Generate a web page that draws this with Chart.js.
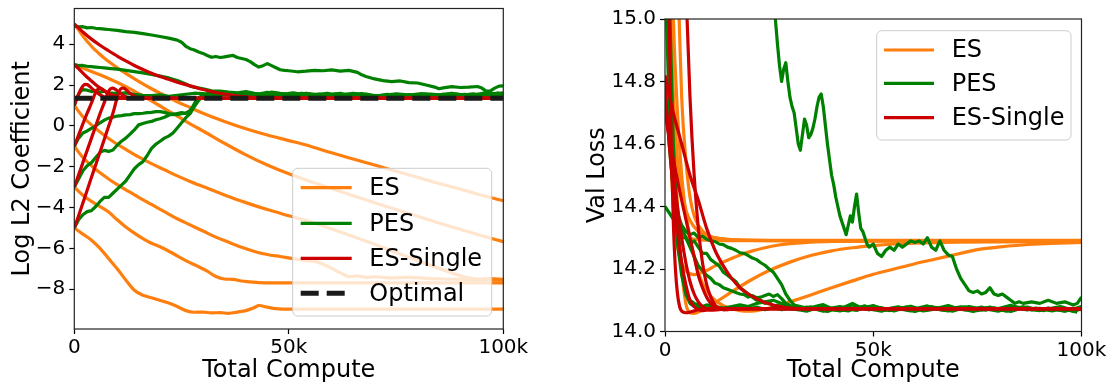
<!DOCTYPE html>
<html>
<head>
<meta charset="utf-8">
<script src="https://cdn.jsdelivr.net/npm/chart.js@4.4.0/dist/chart.umd.min.js"></script>
<style>
  html, body { margin: 0; padding: 0; background: #fff; }
  #wrap { position: relative; width: 1110px; height: 384px; }
  canvas { position: absolute; top: 0; }
  #left { left: 0; }
  #right { left: 560px; }
</style>
</head>
<body>
<div id="wrap">
  <canvas id="left" width="560" height="384"></canvas>
  <canvas id="right" width="550" height="384"></canvas>
</div>
<script>
// x values are total compute in thousands
const xTicks = [0, 50, 100];
const xTickLabels = ['0', '50k', '100k'];
const l2Ticks = [-8, -6, -4, -2, 0, 2, 4];
const lossTicks = [14.0, 14.2, 14.4, 14.6, 14.8, 15.0];
const methods = ['ES', 'PES', 'ES-Single', 'Optimal'];
const optimalL2 = [[0, 1.35], [100, 1.35]];

// x positions of the noisy tails
const evenX = [32,34,36,38,40,42,44,46,48,50,52,54,56,58,60,62,64,66,68,70,72,74,76,78,80,82,84,86,88,90,92,94,96,98,100];
const oddX = [33,35,37,39,41,43,45,47,49,51,53,55,57,59,61,63,65,67,69,71,73,75,77,79,81,83,85,87,89,91,93,95,97,99];

// ---- left: Log L2 coefficient, ES runs (start 5, 3, 1, -1, -3, -5)
const l2Es5 = [[0,5],[2,4.4],[4,3.9],[6,3.5],[8,3.15],[10,2.85],[12,2.57],[15,2.18],[18,1.82],[21,1.5],[24,1.18],[27,0.9],[30,0.62],[35,0.22],[40,-0.14],[45,-0.45],[50,-0.72],[55,-1.0],[60,-1.32],[65,-1.62],[70,-1.92],[75,-2.22],[80,-2.52],[85,-2.82],[90,-3.1],[95,-3.4],[100,-3.67]];
const l2Es3 = [[0,3],[3,2.75],[6,2.5],[9,2.22],[12,1.92],[15,1.58],[18,1.22],[21,0.85],[24,0.48],[27,0.1],[30,-0.25],[35,-0.85],[40,-1.42],[45,-1.92],[50,-2.35],[55,-2.72],[60,-3.07],[65,-3.42],[70,-3.77],[75,-4.1],[80,-4.43],[85,-4.76],[90,-5.07],[95,-5.38],[100,-5.67]];
const l2Es1 = [[0,1],[2,0.45],[4,0.05],[6,-0.3],[8,-0.62],[10,-0.9],[12,-1.15],[15,-1.52],[18,-1.85],[21,-2.15],[24,-2.45],[27,-2.72],[30,-2.97],[35,-3.38],[40,-3.76],[45,-4.1],[50,-4.4],[55,-4.7],[60,-5.05],[65,-5.42],[70,-5.8],[75,-6.2],[80,-6.6],[85,-6.98],[88,-7.2],[91,-7.4],[94,-7.5],[97,-7.48],[100,-7.52]];
const l2EsM1 = [[0,-1],[2,-1.55],[4,-1.95],[6,-2.3],[8,-2.6],[10,-2.88],[12,-3.13],[15,-3.5],[18,-3.85],[21,-4.2],[24,-4.55],[27,-4.85],[30,-5.15],[33,-5.45],[36,-5.7],[39,-5.95],[42,-6.15],[45,-6.3],[48,-6.4],[51,-6.5],[54,-6.6],[56,-6.64],[58,-6.78],[60,-6.98],[62,-7.2],[64,-7.38],[66,-7.35],[68,-7.42],[70,-7.39],[74,-7.45],[78,-7.42],[82,-7.47],[86,-7.5],[90,-7.52],[94,-7.54],[100,-7.55]];
const l2EsM3 = [[0,-3],[2,-3.4],[4,-3.7],[6,-3.95],[8,-4.22],[10,-4.6],[12,-4.95],[14,-5.25],[16,-5.52],[18,-5.75],[20,-5.92],[23,-6.25],[26,-6.6],[29,-6.9],[31,-7.12],[33,-7.38],[35,-7.5],[37,-7.52],[39,-7.6],[41,-7.64],[43,-7.68],[46,-7.69],[60,-7.69],[80,-7.69],[100,-7.69]];
const l2EsM5 = [[0,-5],[2,-5.3],[4,-5.6],[6,-6.0],[8,-6.5],[10,-7.0],[12,-7.55],[14,-8.05],[16,-8.3],[18,-8.42],[20,-8.55],[22,-8.68],[24,-8.85],[26,-9.05],[28,-9.13],[30,-9.12],[32,-9.16],[34,-9.15],[36,-9.18],[38,-9.12],[40,-9.05],[42,-8.9],[43,-8.8],[45,-8.88],[47,-8.95],[50,-8.98],[100,-8.98]];

// ---- left: PES runs
const l2Pes5 = [[0,4.88],[1,4.85],[2,4.86],[3,4.8],[4,4.82],[5,4.78],[6,4.76],[7,4.74],[8,4.72],[10,4.68],[12,4.62],[14,4.58],[16,4.52],[18,4.45],[20,4.38],[22,4.3],[24,4.2],[25,4.1],[26,3.9],[27,3.78],[28,3.72],[29,3.62],[30,3.55],[31,3.45],[32,3.36],[33,3.4],[34,3.35],[35,3.38],[36,3.42],[37,3.45],[38,3.35],[39,3.3],[40,3.25],[41,3.15],[42,3.0],[43,2.88],[44,2.95],[45,3.05],[46,2.95],[47,2.85],[48,2.75],[49,2.72],[50,2.7],[52,2.65],[54,2.68],[56,2.72],[58,2.7],[60,2.74],[62,2.68],[64,2.72],[66,2.62],[67,2.5],[68,2.42],[70,2.3],[72,2.22],[74,2.17],[76,2.2],[78,2.12],[80,2.1],[82,2.0],[84,1.9],[85,1.82],[86,1.86],[88,1.92],[90,1.88],[92,1.9],[94,1.93],[95,1.85],[96,1.7],[97,1.72],[98,1.85],[99,1.95],[100,1.96]];
const l2Pes3 = [[0,3.0],[1,2.95],[2,2.96],[3,2.92],[4,2.9],[5,2.88],[6,2.86],[7,2.84],[8,2.82],[10,2.78],[12,2.72],[14,2.66],[16,2.6],[18,2.52],[20,2.44],[22,2.35],[24,2.22],[26,2.05],[27,1.95],[28,1.9],[30,1.82],[32,1.72],[34,1.7],[36,1.65],[38,1.62],[40,1.68],[42,1.6],[44,1.55],[46,1.66],[48,1.6],[50,1.55],[52,1.5],[54,1.6],[56,1.55],[58,1.48],[60,1.53],[62,1.6],[64,1.5],[66,1.55],[68,1.47],[70,1.43],[72,1.5],[74,1.55],[76,1.49],[78,1.45],[80,1.51],[82,1.57],[84,1.5],[86,1.55],[88,1.6],[90,1.53],[92,1.5],[94,1.55],[96,1.63],[98,1.57],[100,1.62]];
const l2Pes1 = [[0,1.0],[0.5,1.3],[1,1.55],[1.5,1.7],[2,1.78],[3,1.75],[4,1.68],[5,1.72],[6,1.65],[7,1.7],[8,1.62],[10,1.58],[12,1.62],[14,1.55],[16,1.5],[18,1.48],[20,1.52],[22,1.45],[24,1.5],[26,1.55],[28,1.6],[30,1.58],[32,1.52],[34,1.6],[36,1.5],[38,1.55],[40,1.52],[42,1.47],[44,1.55],[46,1.5],[48,1.46],[50,1.53],[52,1.48],[54,1.56],[56,1.5],[58,1.45],[60,1.52],[62,1.48],[64,1.43],[66,1.5],[68,1.56],[70,1.48],[72,1.45],[74,1.5],[76,1.46],[78,1.53],[80,1.48],[82,1.43],[84,1.47],[86,1.54],[88,1.48],[90,1.45],[92,1.5],[94,1.55],[96,1.48],[98,1.46],[100,1.52]];
const l2PesM1Head = [[0,-1.0],[1,-0.6],[2,-0.35],[3,-0.25],[4,-0.12],[5,0.0],[6,0.15],[7,0.28],[8,0.38],[9,0.42],[10,0.48],[11,0.5],[12,0.54],[13,0.55],[14,0.6],[15,0.6],[16,0.62],[17,0.65],[18,0.66],[19,0.7],[20,0.7],[21,0.66],[22,0.6],[23,0.55],[24,0.6],[25,0.65],[26,0.62],[27,0.7],[27.5,0.9],[28,1.1],[28.5,1.25],[29,1.38],[30,1.5],[31,1.56]];
const l2PesM1Tail = [1.58,1.5,1.62,1.55,1.48,1.56,1.65,1.55,1.48,1.52,1.6,1.54,1.46,1.5,1.57,1.52,1.45,1.5,1.42,1.48,1.55,1.5,1.46,1.53,1.58,1.5,1.46,1.52,1.56,1.5,1.47,1.54,1.6,1.55];
const l2PesM3Head = [[0,-3],[1,-2.6],[2,-2.2],[3,-1.95],[4,-1.8],[5,-1.55],[6,-1.3],[7,-1.2],[8,-1.25],[9,-1.18],[10,-0.95],[11,-0.75],[12,-0.6],[13,-0.4],[14,-0.2],[15,0.05],[16,0.12],[17,0.18],[18,0.22],[19,0.3],[20,0.35],[21,0.42],[22,0.52],[23,0.58],[24,0.55],[25,0.6],[26,0.62],[27,0.75],[28,1.0],[29,1.3],[30,1.48],[31,1.55]];
const l2PesM3Tail = [1.48,1.55,1.5,1.58,1.52,1.46,1.52,1.6,1.54,1.48,1.45,1.52,1.56,1.5,1.45,1.55,1.6,1.54,1.48,1.43,1.48,1.54,1.5,1.45,1.5,1.56,1.52,1.46,1.5,1.55,1.5,1.46,1.52,1.5];
const l2PesM5Head = [[0,-5],[1,-4.6],[2,-4.35],[3,-4.2],[4,-4.15],[5,-3.95],[6,-3.7],[7,-3.5],[8,-3.5],[9,-3.3],[10,-3.1],[11,-2.9],[12,-2.7],[13,-2.4],[14,-2.1],[15,-1.9],[16,-1.75],[17,-1.45],[18,-1.1],[19,-0.9],[20,-0.75],[21,-0.6],[22,-0.5],[23,-0.35],[24,-0.1],[25,0.15],[26,0.4],[27,0.6],[28,0.95],[29,1.25],[30,1.48],[31,1.58]];
const l2PesM5Tail = [1.6,1.55,1.48,1.52,1.58,1.5,1.45,1.5,1.56,1.62,1.55,1.5,1.54,1.6,1.52,1.47,1.52,1.58,1.5,1.45,1.5,1.57,1.53,1.48,1.52,1.46,1.5,1.55,1.48,1.52,1.57,1.5,1.55,1.62];

// ---- left: ES-Single runs
const l2Single5 = [[0,5],[2,4.6],[4,4.25],[6,3.95],[8,3.68],[10,3.42],[12,3.18],[14,2.96],[16,2.76],[18,2.58],[20,2.42],[22,2.28],[24,2.14],[26,2.02],[28,1.9],[30,1.78],[32,1.68],[34,1.6],[36,1.53],[38,1.47],[40,1.42],[43,1.38],[46,1.36],[50,1.35],[100,1.35]];
const l2Single3 = [[0,3],[1,2.8],[2,2.58],[3,2.38],[4,2.2],[5,2.02],[6,1.86],[7,1.72],[8,1.6],[9,1.5],[10,1.43],[11,1.39],[12,1.36],[14,1.35],[100,1.35]];
const l2Single1 = [[0,1],[0.5,1.3],[1,1.55],[1.5,1.78],[2,1.95],[2.5,2.03],[3,2.02],[3.5,1.95],[4,1.85],[5,1.68],[6,1.52],[7,1.42],[8,1.37],[9,1.35],[100,1.35]];
const l2SingleM1 = [[0,-1],[1,-0.45],[2,0.1],[3,0.62],[4,1.12],[4.5,1.4],[5,1.65],[5.5,1.8],[6,1.83],[6.5,1.8],[7,1.72],[8,1.55],[9,1.43],[10,1.38],[11,1.36],[12,1.35],[100,1.35]];
const l2SingleM3 = [[0,-3],[1,-2.4],[2,-1.8],[3,-1.2],[4,-0.6],[5,0.0],[6,0.6],[7,1.15],[7.5,1.45],[8,1.7],[8.5,1.83],[9,1.85],[9.5,1.8],[10,1.72],[11,1.55],[12,1.43],[13,1.38],[14,1.36],[15,1.35],[100,1.35]];
const l2SingleM5 = [[0,-5],[1,-4.4],[2,-3.78],[3,-3.15],[4,-2.52],[5,-1.9],[6,-1.28],[7,-0.65],[8,-0.02],[9,0.62],[9.5,1.0],[10,1.4],[10.5,1.7],[11,1.84],[11.5,1.85],[12,1.78],[13,1.6],[14,1.46],[15,1.39],[16,1.36],[17,1.35],[100,1.35]];

// ---- right: validation loss, ES runs
const lossEs1 = [[0,16.5],[0.5,15.5],[1,14.9],[1.5,14.6],[2,14.45],[3,14.35],[4,14.32],[5,14.305],[7,14.295],[10,14.292],[15,14.291],[100,14.291]];
const lossEs2 = [[0,17],[1,16.2],[2,15.6],[3,15.15],[3.4,15.0],[4,14.75],[5,14.55],[6,14.43],[7,14.37],[8,14.34],[10,14.31],[13,14.298],[17,14.293],[25,14.292],[100,14.292]];
const lossEs3 = [[0,16.5],[0.5,15.4],[1,14.85],[1.5,14.55],[2,14.4],[3,14.27],[4,14.22],[5,14.195],[6,14.185],[7,14.182],[8,14.185],[10,14.195],[12,14.21],[15,14.228],[18,14.245],[21,14.258],[24,14.268],[27,14.276],[30,14.281],[35,14.286],[40,14.288],[50,14.289],[100,14.289]];
const lossEs4 = [[0,16.5],[1,15.3],[2,14.7],[3,14.4],[4,14.2],[5,14.09],[6,14.06],[7,14.058],[8,14.062],[10,14.075],[12,14.092],[15,14.118],[20,14.16],[25,14.195],[30,14.222],[35,14.243],[40,14.258],[45,14.268],[50,14.275],[55,14.28],[60,14.283],[70,14.286],[80,14.287],[100,14.288]];
const lossEs5 = [[0,16.5],[1,15.6],[2,15.0],[3,14.7],[4,14.5],[5,14.38],[6,14.3],[7,14.24],[8,14.19],[9,14.155],[10,14.13],[12,14.1],[14,14.083],[16,14.073],[18,14.067],[20,14.065],[22,14.067],[25,14.075],[30,14.095],[35,14.117],[40,14.14],[45,14.162],[50,14.183],[55,14.2],[60,14.217],[65,14.232],[70,14.247],[75,14.262],[80,14.27],[85,14.276],[90,14.28],[100,14.285]];
const lossEs6 = [[0,16],[1,15.2],[2,14.75],[3,14.55],[4,14.45],[5,14.39],[6,14.355],[8,14.32],[10,14.305],[13,14.297],[17,14.293],[25,14.291],[100,14.291]];

// ---- right: PES runs
const lossPes1 = [[0,17],[10,16.2],[20,15.5],[25,15.15],[26.5,15.0],[27,14.92],[27.5,14.85],[28,14.8],[28.5,14.84],[29,14.86],[29.5,14.8],[30,14.75],[30.5,14.72],[31,14.7],[31.5,14.65],[32,14.6],[32.5,14.58],[33,14.63],[33.5,14.68],[34,14.66],[34.5,14.62],[35,14.63],[35.5,14.65],[36,14.68],[36.5,14.72],[37,14.75],[37.5,14.76],[38,14.72],[38.5,14.66],[39,14.6],[39.5,14.55],[40,14.5],[40.5,14.47],[41,14.43],[41.5,14.4],[42,14.37],[42.5,14.35],[43,14.33],[43.5,14.31],[44,14.34],[44.5,14.37],[45,14.35],[45.5,14.4],[46,14.44],[46.5,14.38],[47,14.33],[47.5,14.32],[48,14.3],[48.5,14.28],[49,14.27],[50,14.28],[51,14.25],[52,14.24],[53,14.26],[54,14.27],[55,14.26],[56,14.28],[57,14.27],[58,14.28],[59,14.29],[60,14.285],[61,14.29],[62,14.28],[63,14.3],[64,14.27],[65,14.26],[66,14.29],[67,14.26],[68,14.245],[69,14.24],[70,14.2],[71,14.17],[72,14.15],[73,14.13],[74,14.125],[75,14.13],[76,14.12],[77,14.125],[78,14.14],[79,14.12],[80,14.115],[81,14.12],[82,14.11],[83,14.1],[84,14.09],[85,14.095],[86,14.09],[88,14.095],[90,14.09],[92,14.1],[94,14.09],[96,14.095],[98,14.085],[99,14.09],[100,14.11]];
const lossPes2Head = [[0,14.4],[1,14.38],[2,14.36],[3,14.33],[4,14.3],[5,14.3],[6,14.28],[7,14.29],[8,14.27],[9,14.25],[10,14.25],[11,14.23],[12,14.22],[13,14.21],[14,14.19],[15,14.18],[16,14.17],[17,14.16],[18,14.14],[19,14.13],[20,14.12],[21,14.11],[22,14.1],[23,14.1],[24,14.09],[25,14.095],[26,14.08],[27,14.085],[28,14.08],[30,14.072]];
const lossPes2Tail = [14.07,14.078,14.072,14.065,14.075,14.08,14.072,14.068,14.076,14.07,14.065,14.074,14.079,14.071,14.067,14.074,14.08,14.073,14.068,14.075,14.07,14.064,14.072,14.078,14.07,14.066,14.073,14.079,14.072,14.068,14.075,14.07,14.066,14.074,14.07];
const lossPes3Head = [[0,14.8],[1,14.6],[2,14.45],[3,14.38],[4,14.34],[5,14.32],[6,14.31],[7,14.315],[8,14.3],[9,14.305],[10,14.295],[11,14.29],[12,14.288],[13,14.28],[14,14.278],[15,14.27],[16,14.266],[17,14.26],[18,14.252],[19,14.25],[20,14.243],[21,14.235],[22,14.23],[23,14.22],[24,14.212],[25,14.2],[26,14.19],[27,14.17],[28,14.15],[29,14.12],[30,14.1],[31,14.085]];
const lossPes3Tail = [14.078,14.07,14.082,14.074,14.068,14.076,14.085,14.075,14.07,14.078,14.072,14.066,14.074,14.081,14.073,14.069,14.077,14.071,14.065,14.073,14.08,14.074,14.068,14.076,14.07,14.064,14.072,14.078,14.071,14.067,14.075,14.08,14.072,14.068];
const lossPes4Head = [[0,15.2],[1,14.7],[2,14.45],[3,14.28],[4,14.18],[5,14.12],[6,14.1],[7,14.09],[8,14.085],[9,14.08],[10,14.085],[12,14.08],[14,14.075],[16,14.08],[18,14.085],[20,14.08],[22,14.09],[24,14.095],[26,14.1],[28,14.09],[30,14.08]];
const lossPes4Tail = [14.075,14.068,14.08,14.086,14.074,14.07,14.066,14.075,14.082,14.07,14.076,14.068,14.072,14.079,14.074,14.066,14.07,14.077,14.083,14.074,14.069,14.072,14.078,14.07,14.065,14.073,14.08,14.075,14.069,14.074,14.07,14.076,14.072,14.065,14.072];
const lossPes5Head = [[0,15.8],[1,14.9],[2,14.5],[3,14.37],[4,14.33],[5,14.3],[6,14.27],[7,14.24],[8,14.21],[9,14.195],[10,14.18],[11,14.17],[12,14.155],[13,14.15],[14,14.14],[15,14.135],[16,14.13],[17,14.125],[18,14.12],[19,14.118],[20,14.11],[21,14.115],[22,14.108],[23,14.11],[24,14.115],[25,14.12],[26,14.112],[27,14.118],[28,14.105],[29,14.09],[31,14.078]];
const lossPes5Tail = [14.072,14.079,14.07,14.064,14.073,14.078,14.09,14.076,14.07,14.074,14.068,14.075,14.071,14.066,14.076,14.082,14.072,14.068,14.074,14.079,14.072,14.067,14.075,14.07,14.077,14.084,14.074,14.069,14.075,14.071,14.066,14.073,14.068,14.062];
const lossPes6Head = [[0,16],[1,15.1],[2,14.6],[3,14.35],[4,14.2],[5,14.12],[6,14.09],[7,14.08],[8,14.075],[9,14.08],[10,14.072],[12,14.078],[14,14.07],[16,14.075],[18,14.08],[20,14.072],[22,14.078],[24,14.07],[26,14.076],[28,14.07],[30,14.074]];
const lossPes6Tail = [14.07,14.065,14.074,14.079,14.071,14.066,14.072,14.068,14.077,14.083,14.072,14.067,14.073,14.07,14.064,14.072,14.077,14.07,14.066,14.074,14.079,14.071,14.068,14.075,14.07,14.066,14.073,14.078,14.07,14.067,14.074,14.07,14.065,14.072,14.08];

// ---- right: ES-Single runs
const lossSingle1 = [[0,16.5],[0.5,15.6],[1,15.0],[1.5,14.6],[2,14.35],[2.5,14.2],[3,14.12],[3.5,14.08],[4,14.065],[5,14.06],[6,14.062],[7,14.066],[8,14.07],[10,14.073],[100,14.073]];
const lossSingle2 = [[0,14.78],[1,14.6],[2,14.45],[3,14.32],[4,14.22],[5,14.15],[6,14.1],[7,14.08],[8,14.07],[9,14.067],[10,14.068],[12,14.072],[15,14.073],[100,14.073]];
const lossSingle3 = [[0,14.75],[1,14.62],[2,14.5],[3,14.4],[4,14.3],[5,14.22],[6,14.16],[7,14.12],[8,14.095],[9,14.08],[10,14.072],[11,14.068],[13,14.07],[16,14.073],[100,14.073]];
const lossSingle4 = [[0,14.7],[2,14.55],[4,14.42],[6,14.3],[7,14.24],[8,14.18],[9,14.14],[10,14.11],[11,14.09],[12,14.078],[13,14.072],[15,14.07],[18,14.073],[100,14.073]];
const lossSingle5 = [[0,18],[3,16],[4.5,15.4],[5.3,15.0],[6,14.75],[7,14.5],[8,14.33],[9,14.22],[10,14.15],[11,14.11],[12,14.085],[13,14.075],[14,14.07],[16,14.071],[20,14.073],[100,14.073]];
const lossSingle6 = [[0,14.82],[2,14.7],[4,14.6],[6,14.5],[8,14.42],[10,14.33],[12,14.26],[14,14.21],[16,14.17],[18,14.14],[20,14.12],[22,14.105],[24,14.093],[26,14.085],[28,14.079],[30,14.075],[34,14.073],[100,14.073]];

const ORANGE = '#ff7f0e', GREEN = '#008000', RED = '#cc0000', BLACK = '#1a1a1a';
const LW = 3.2;

Chart.defaults.font.family = "'DejaVu Sans', sans-serif";
Chart.defaults.color = '#000';

function withTail(head, xs, ys) {
  const out = head.slice();
  for (let i = 0; i < Math.min(xs.length, ys.length); i++) out.push([xs[i], ys[i]]);
  return out;
}

// smooth runs get monotone curves, noisy runs straight segments
function line(points, color, extra) {
  return Object.assign({
    data: points.map(p => ({x: p[0], y: p[1]})),
    borderColor: color,
    borderWidth: LW,
    pointRadius: 0,
    fill: false,
    cubicInterpolationMode: 'monotone',
    borderJoinStyle: 'round',
    clip: 0
  }, extra || {});
}
const jagged = {cubicInterpolationMode: 'default', tension: 0};

const framePlugin = {
  id: 'frame',
  afterDatasetsDraw(chart) {
    const a = chart.chartArea, ctx = chart.ctx;
    ctx.save();
    ctx.strokeStyle = '#222';
    ctx.lineWidth = 1.2;
    ctx.strokeRect(a.left, a.top, a.right - a.left, a.bottom - a.top);
    ctx.restore();
  }
};

const legendPlugin = {
  id: 'boxLegend',
  afterDraw(chart, args, o) {
    const ctx = chart.ctx;
    ctx.save();
    ctx.beginPath();
    ctx.roundRect(o.x, o.y, o.w, o.h, 5);
    ctx.fillStyle = 'rgba(255,255,255,0.8)';
    ctx.fill();
    ctx.strokeStyle = '#cccccc';
    ctx.lineWidth = 1;
    ctx.stroke();
    o.items.forEach((it, i) => {
      const cy = o.rows[i];
      ctx.beginPath();
      ctx.strokeStyle = it.color;
      ctx.lineWidth = it.width || LW;
      ctx.setLineDash(it.dash || []);
      ctx.moveTo(o.hx0, cy);
      ctx.lineTo(o.hx1, cy);
      ctx.stroke();
      ctx.setLineDash([]);
      ctx.fillStyle = '#000';
      ctx.font = o.fontSize + "px 'DejaVu Sans'";
      ctx.textBaseline = 'middle';
      ctx.textAlign = 'left';
      ctx.fillText(it.label, o.tx, cy + 1);
    });
    ctx.restore();
  }
};

function xAxis(height) {
  return {
    type: 'linear', min: 0, max: 100,
    afterBuildTicks: s => { s.ticks = xTicks.map(v => ({value: v})); },
    afterFit: s => { s.height = height; s.paddingLeft = 0; s.paddingRight = 0; },
    ticks: { callback: (v, i) => xTickLabels[i], font: {size: 20}, padding: 2, maxRotation: 0, autoSkip: false, color: '#000' },
    grid: { drawOnChartArea: false, drawTicks: true, tickLength: 5, tickColor: '#000', tickWidth: 1.2 },
    border: { display: false },
    title: { display: true, text: 'Total Compute', color: '#000', font: {size: 24}, padding: {top: 0, bottom: -1} }
  };
}

function yAxis(min, max, ticks, fmt, width, title, titlePad) {
  return {
    type: 'linear', min: min, max: max,
    afterBuildTicks: s => { s.ticks = ticks.map(v => ({value: v})); },
    afterFit: s => { s.width = width; s.paddingTop = 0; s.paddingBottom = 0; },
    ticks: { callback: fmt, font: {size: 20}, padding: 4, autoSkip: false, color: '#000' },
    grid: { drawOnChartArea: false, drawTicks: true, tickLength: 5, tickColor: '#000', tickWidth: 1.2 },
    border: { display: false },
    title: { display: true, text: title, color: '#000', font: {size: 24}, padding: {top: titlePad, bottom: 0} }
  };
}

const legendItems = [
  {label: methods[0], color: ORANGE},
  {label: methods[1], color: GREEN},
  {label: methods[2], color: RED},
  {label: methods[3], color: BLACK, width: 5, dash: [18, 8]}
];

// left chart: drawing order = first dataset on top
const leftSets = [
  line(optimalL2, BLACK, {borderWidth: 5, borderDash: [18, 8], cubicInterpolationMode: 'default', tension: 0}),
  ...[l2Single5, l2Single3, l2Single1, l2SingleM1, l2SingleM3, l2SingleM5].map(r => line(r, RED)),
  ...[l2Pes5, l2Pes3, l2Pes1,
      withTail(l2PesM1Head, oddX, l2PesM1Tail),
      withTail(l2PesM3Head, oddX, l2PesM3Tail),
      withTail(l2PesM5Head, oddX, l2PesM5Tail)].map(r => line(r, GREEN, jagged)),
  ...[l2Es5, l2Es3, l2Es1, l2EsM1, l2EsM3, l2EsM5].map(r => line(r, ORANGE))
];

new Chart(document.getElementById('left'), {
  type: 'line',
  data: { datasets: leftSets },
  options: {
    responsive: false, animation: false, events: [],
    layout: { padding: {top: 8.5, right: 56.7, bottom: 0, left: 0} },
    scales: {
      x: xAxis(55),
      y: yAxis(-9.95, 5.75, l2Ticks, v => (v < 0 ? '\u2212' + Math.abs(v) : String(v)), 74.3, 'Log L2 Coefficient', 8)
    },
    plugins: {
      legend: {display: false}, tooltip: {enabled: false},
      boxLegend: { x: 292.7, y: 168.3, w: 199, h: 147.7, rows: [187.7, 223.3, 258.3, 293.3],
                   hx0: 300.7, hx1: 351.7, tx: 369.3, fontSize: 24, items: legendItems }
    }
  },
  plugins: [framePlugin, legendPlugin]
});

const rightSets = [
  ...[lossSingle1, lossSingle2, lossSingle3, lossSingle4, lossSingle5, lossSingle6].map(r => line(r, RED)),
  ...[lossPes1,
      withTail(lossPes2Head, evenX, lossPes2Tail),
      withTail(lossPes3Head, oddX, lossPes3Tail),
      withTail(lossPes4Head, evenX, lossPes4Tail),
      withTail(lossPes5Head, oddX, lossPes5Tail),
      withTail(lossPes6Head, evenX, lossPes6Tail)].map(r => line(r, GREEN, jagged)),
  ...[lossEs1, lossEs2, lossEs3, lossEs4, lossEs5, lossEs6].map(r => line(r, ORANGE))
];

new Chart(document.getElementById('right'), {
  type: 'line',
  data: { datasets: rightSets },
  options: {
    responsive: false, animation: false, events: [],
    layout: { padding: {top: 19, right: 28.5, bottom: 0, left: 0} },
    scales: {
      x: xAxis(52.5),
      y: yAxis(14.0, 15.0, lossTicks, v => v.toFixed(1), 105, 'Val Loss', 23.5)
    },
    plugins: {
      legend: {display: false}, tooltip: {enabled: false},
      boxLegend: { x: 316.7, y: 30.7, w: 194.3, h: 109.3, rows: [50, 83.3, 117.7],
                   hx0: 324, hx1: 374, tx: 391.7, fontSize: 24, items: legendItems.slice(0, 3) }
    }
  },
  plugins: [framePlugin, legendPlugin]
});
</script>
</body>
</html>
